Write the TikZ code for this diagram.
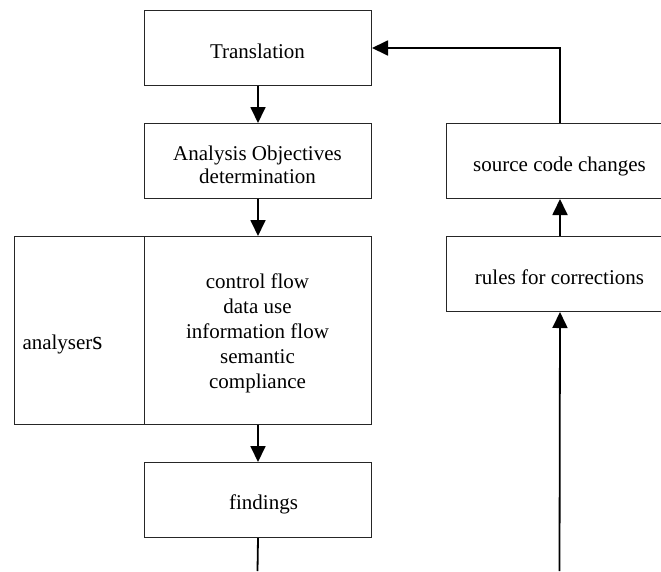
\documentclass[tikz,border=0pt]{standalone}
\usepackage{fontspec}
\setmainfont{Liberation Serif}
\usetikzlibrary{arrows.meta}
\begin{document}
\begin{tikzpicture}[x=1pt,y=-1pt,
  box/.style={draw=black!85, line width=1pt, rectangle, minimum width=227pt,
    minimum height=75pt, inner sep=0pt, anchor=north west},
  lbl/.style={font=\fontsize{21}{25}\selectfont, inner sep=0pt, anchor=base, align=center},
  flow/.style={line width=1.8pt, -{Triangle[length=16pt,width=15pt]}},
  plain/.style={line width=1.8pt}]
\useasboundingbox (0,0) rectangle (661,571);
\clip (0,0) rectangle (661,571);

% boxes of the main column
\node[box] (trans) at (144,10) {};
\node[box] (obj) at (144,123) {};
\node[box, minimum width=357.5pt, minimum height=188pt] (anl) at (13.5,236) {};
\node[box, minimum height=188pt] (chk) at (144,236) {};
\node[box] (find) at (144,462) {};

% boxes of the correction column
\node[box] (src) at (446,123) {};
\node[box] (rules) at (446,236) {};

% free ends of the lines leaving the bottom edge
\coordinate (fend) at (257.5,571);
\coordinate (rstart) at (559.5,571);

% connectors
\draw[flow] (trans) -- (obj);
\draw[flow] (obj) -- (chk);
\draw[flow] (chk) -- (find);
\draw[plain] (find.south) -- (fend);
\draw[flow] (rstart) -- (rules.south);
\draw[flow] (rules) -- (src);
\draw[flow] (src.north) |- (trans.east);

% texts (multi-line labels sit on the baseline of their last line)
\node[lbl] (t1) at (257.5,58.5) {Translation};
\node[lbl, font=\fontsize{21}{23.3}\selectfont] (t2) at (257.5,183.3) {Analysis Objectives\\determination};
\node[lbl] (t3) at (257.5,388.5) {control flow\\data use\\information flow\\semantic\\compliance};
\node[lbl, anchor=base west] (t4) at (22.3,349.3) {analyser{\fontsize{26}{26}\selectfont s}};
\node[lbl] (t5) at (263.5,509.3) {findings};
\node[lbl] (t6) at (559.5,171.7) {source code changes};
\node[lbl] (t7) at (559.5,284) {rules for corrections};
\end{tikzpicture}
\end{document}
